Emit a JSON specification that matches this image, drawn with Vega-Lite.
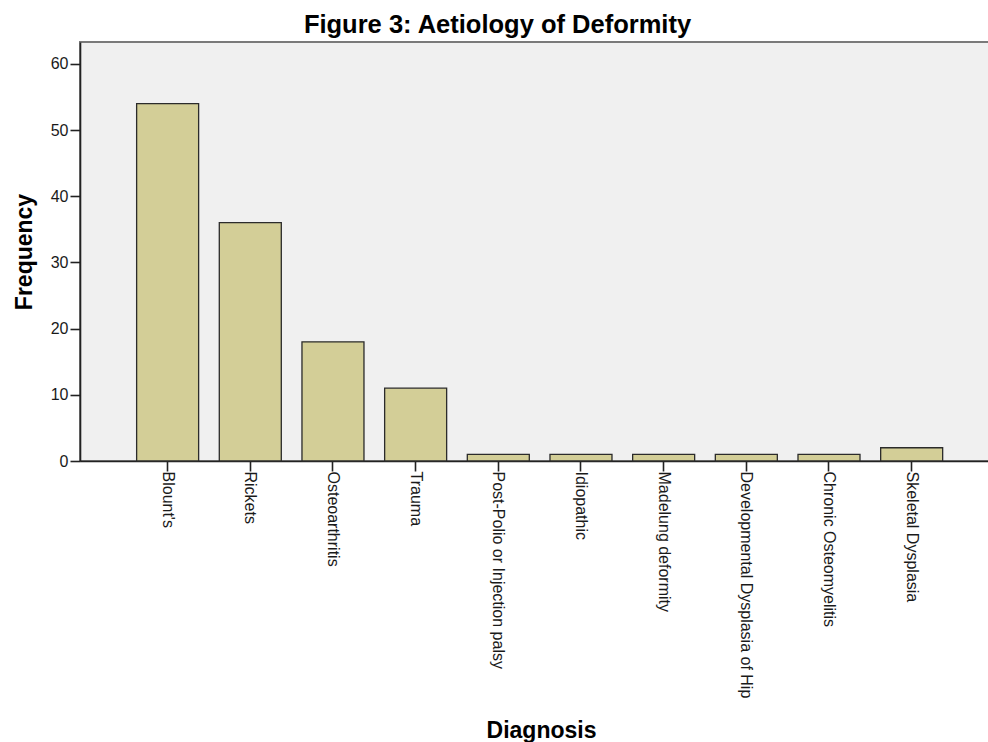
{
  "$schema": "https://vega.github.io/schema/vega-lite/v6.json",
  "autosize": "none",
  "padding": {"left": 80, "top": 42, "right": 0, "bottom": 281},
  "width": 909,
  "height": 419,
  "background": "white",
  "title": {
    "text": "Figure 3: Aetiology of Deformity",
    "font": "Liberation Sans",
    "fontSize": 25.5,
    "fontWeight": "bold",
    "color": "#000000",
    "anchor": "middle",
    "dx": -37,
    "offset": -16,
    "baseline": "alphabetic"
  },
  "config": {
    "view": {"fill": "#f0f0f0", "stroke": "#7a7a7a", "strokeWidth": 2},
    "axis": {
      "labelFont": "Liberation Sans",
      "titleFont": "Liberation Sans",
      "labelColor": "#1a1a1a",
      "titleColor": "#000000",
      "domainColor": "#222222",
      "tickColor": "#222222",
      "domainWidth": 1.6,
      "tickWidth": 1.6,
      "grid": false
    }
  },
  "data": {
    "values": [
      {"diagnosis": "Blount's", "frequency": 54},
      {"diagnosis": "Rickets", "frequency": 36},
      {"diagnosis": "Osteoarthritis", "frequency": 18},
      {"diagnosis": "Trauma", "frequency": 11},
      {"diagnosis": "Post-Polio or Injection palsy", "frequency": 1},
      {"diagnosis": "Idiopathic", "frequency": 1},
      {"diagnosis": "Madelung deformity", "frequency": 1},
      {"diagnosis": "Developmental Dysplasia of Hip", "frequency": 1},
      {"diagnosis": "Chronic Osteomyelitis", "frequency": 1},
      {"diagnosis": "Skeletal Dysplasia", "frequency": 2}
    ]
  },
  "mark": {"type": "bar", "fill": "#d3ce97", "stroke": "#2b2b2b", "strokeWidth": 1.3},
  "encoding": {
    "x": {
      "field": "diagnosis",
      "type": "nominal",
      "sort": null,
      "scale": {"paddingInner": 0.25, "paddingOuter": 0.6227, "align": 0.55},
      "axis": {
        "title": "Diagnosis",
        "titleFontSize": 23,
        "titleFontWeight": "bold",
        "titleY": 276,
        "titleX": 461,
        "titleBaseline": "alphabetic",
        "labelAngle": 90,
        "labelFontSize": 16,
        "labelPadding": 0,
        "labelLimit": 0,
        "tickSize": 10
      }
    },
    "y": {
      "field": "frequency",
      "type": "quantitative",
      "scale": {"domain": [0, 63.3], "nice": false},
      "axis": {
        "title": "Frequency",
        "titleFontSize": 23,
        "titleFontWeight": "bold",
        "titlePadding": 14,
        "values": [0, 10, 20, 30, 40, 50, 60],
        "labelFontSize": 16,
        "labelPadding": 2,
        "tickSize": 10
      }
    }
  }
}
